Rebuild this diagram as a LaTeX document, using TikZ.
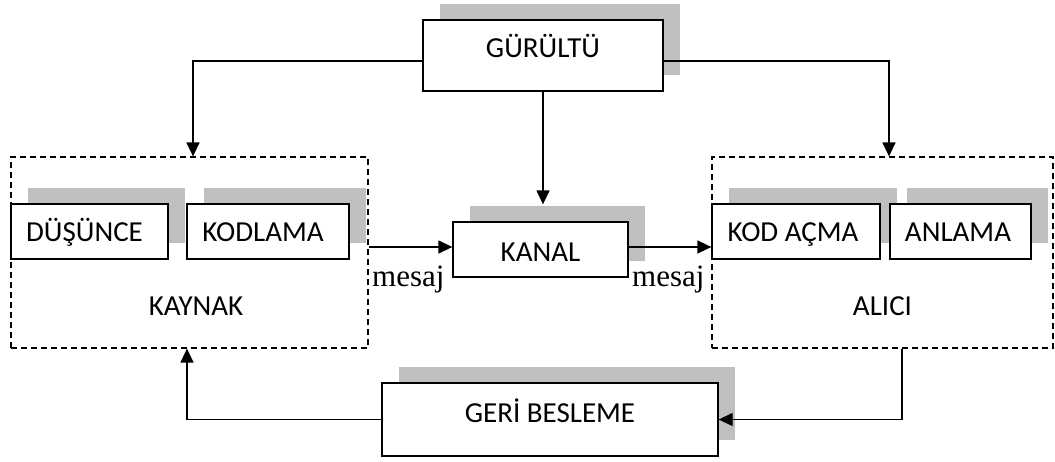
\documentclass[tikz,border=0pt]{standalone}
\usepackage{fontspec}
\setmainfont{Carlito}
\newfontfamily\serifmsg{Liberation Serif}
\usetikzlibrary{arrows.meta,shadows}
\definecolor{shadowgray}{HTML}{BFBFBF}
\tikzset{
  stagebox/.style={draw=black, line width=1.3pt, fill=white, inner xsep=0pt, inner ysep=0pt,
    general shadow={fill=shadowgray, shadow xshift=16.5pt, shadow yshift=16pt}},
  groupbox/.style={draw=black, line width=1.2pt, dash pattern=on 6pt off 4pt, inner xsep=0pt, inner ysep=0pt},
  flow/.style={line width=1.3pt, -{Triangle[length=14pt,width=13pt]}},
  msg/.style={font=\serifmsg\fontsize{31}{33}\selectfont, inner sep=0pt, anchor=base west}
}
\begin{document}
\begin{tikzpicture}[x=1pt,y=-1pt,font=\fontsize{29}{31}\selectfont]
\useasboundingbox (0,0) rectangle (1055,461);

% source and receiver groups
\node[groupbox, minimum width=357pt, text height=158pt, text depth=33pt] (kaynak) at (189.5,252.5) {\hspace*{13pt}KAYNAK};
\node[groupbox, minimum width=341pt, text height=158pt, text depth=33pt] (alici) at (882.5,252.5) {ALICI};

% stages
\node[stagebox, minimum width=240pt, text height=37pt, text depth=34pt] (gurultu) at (543,55.5) {GÜRÜLTÜ};
\node[stagebox, minimum width=157pt, text height=37pt, text depth=18pt] (dusunce) at (89.5,231.5) {DÜŞÜNCE\hspace*{10pt}};
\node[stagebox, minimum width=162pt, text height=37pt, text depth=18pt] (kodlama) at (268,231.5) {KODLAMA\hspace*{10pt}};
\node[stagebox, minimum width=175pt, text height=39pt, text depth=16pt] (kanal) at (540.5,249.5) {KANAL};
\node[stagebox, minimum width=168pt, text height=37pt, text depth=18pt] (kodacma) at (796,231.5) {KOD AÇMA\hspace*{6pt}};
\node[stagebox, minimum width=141pt, text height=37pt, text depth=18pt] (anlama) at (960.5,231.5) {ANLAMA\hspace*{5pt}};
\node[stagebox, minimum width=336pt, text height=39pt, text depth=34pt] (geri) at (550,419.5) {GERİ BESLEME};

% noise feeds
\draw[flow] ([yshift=-5.5pt]gurultu.west) -| ([xshift=3.5pt]kaynak.north);
\draw[flow] ([yshift=-5.5pt]gurultu.east) -| ([xshift=6.5pt]alici.north);
\draw[flow] (gurultu.south) -- ([yshift=17pt]gurultu.south |- kanal.north);

% message path
\draw[flow] ([yshift=5.5pt]kaynak.east) -- ([yshift=2.5pt]kanal.west);
\draw[flow] ([yshift=2.5pt]kanal.east) -- ([yshift=2.5pt]kanal.east -| alici.west);
\node[msg] (mesaj1) at (372,286) {mesaj};
\node[msg] (mesaj2) at (632,286) {mesaj};

% feedback loop
\draw[flow] ([xshift=19.5pt]alici.south) |- (geri.east);
\draw[flow] (geri.west) -| ([xshift=-2.5pt]kaynak.south);
\end{tikzpicture}
\end{document}
